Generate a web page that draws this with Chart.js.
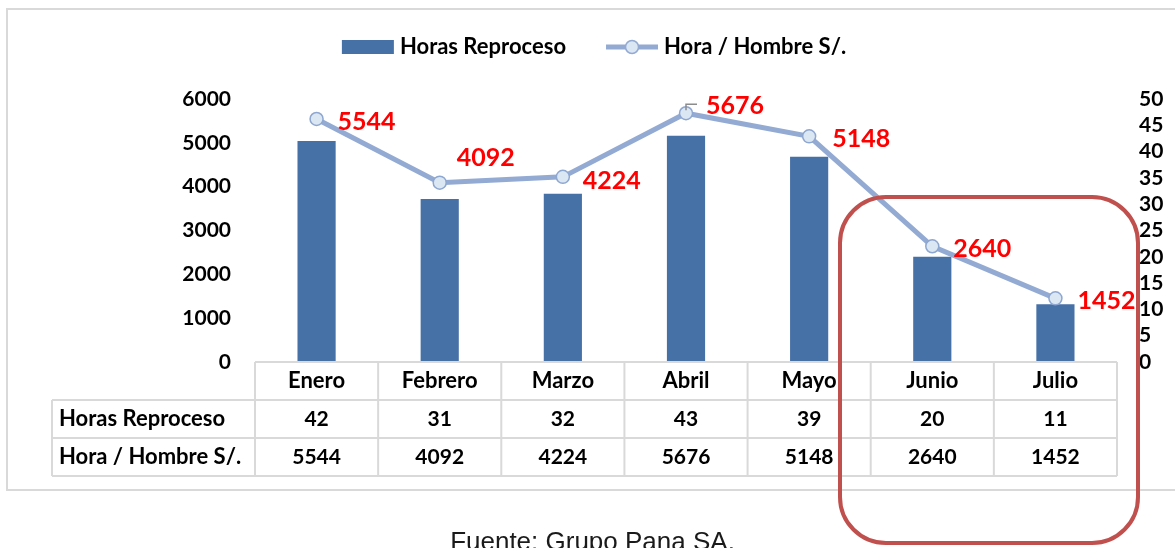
<!DOCTYPE html>
<html lang="es">
<head>
<meta charset="utf-8">
<title>Horas Reproceso y Hora / Hombre S/.</title>
<script src="https://cdn.jsdelivr.net/npm/chart.js@4.4.1/dist/chart.umd.min.js"></script>
<style>
  html, body { margin: 0; padding: 0; background: #fff; }
  #contenedor { position: relative; width: 1175px; height: 548px; overflow: hidden; }
  #marco { position: absolute; left: 6px; top: 8px; width: 1200px; height: 483px; border: 2px solid #d9d9d9; box-sizing: border-box; }
  #lienzo { position: absolute; left: 0; top: 0; width: 1175px; height: 548px; }
  #resaltado { position: absolute; left: 838px; top: 195px; width: 302px; height: 350px; border: 4px solid #c0504d; border-radius: 48px; box-sizing: border-box; }
  #fuente { position: absolute; left: 0; top: 528px; width: 1185px; text-align: center; font: 26px/26px "Liberation Sans", Arial, sans-serif; color: #1a1a1a; }
</style>
</head>
<body>
<div id="contenedor">
  <div id="marco"></div>
  <div id="lienzo"><canvas id="graficoReproceso"></canvas></div>
  <div id="resaltado"></div>
  <div id="fuente">Fuente: Grupo Pana SA.</div>
</div>
<script>
var meses = ['Enero', 'Febrero', 'Marzo', 'Abril', 'Mayo', 'Junio', 'Julio'];
var horasReproceso = [42, 31, 32, 43, 39, 20, 11];
var horaHombre = [5544, 4092, 4224, 5676, 5148, 2640, 1452];

var serieBarras = 'Horas Reproceso';
var serieLinea = 'Hora / Hombre S/.';

// desplazamiento de cada etiqueta roja respecto a su punto
var desplazamientoEtiquetas = [[21, 3], [17, -25], [20, 4], [20, -7], [23, 3], [21, 3], [22, 3]];

var colorBarra = '#4671a7';
var colorLinea = '#93aad3';
var colorMarcador = '#dbe7f3';
var colorTabla = '#d9d9d9';

var fuenteTexto = 'bold 22px Lato';
var fuenteNumeros = 'bold 21px Lato';

Chart.defaults.font.family = 'Lato';
Chart.defaults.font.size = 21;
Chart.defaults.font.weight = 'bold';
Chart.defaults.color = '#000';

// valores en rojo junto a cada punto de la linea
var etiquetasLinea = {
	id: 'etiquetasLinea',
	afterDatasetsDraw: function(chart) {
		var ctx = chart.ctx;
		var puntos = chart.getDatasetMeta(0).data;
		ctx.save();
		ctx.font = 'bold 25px Lato';
		ctx.fillStyle = '#ff0000';
		ctx.textAlign = 'left';
		ctx.textBaseline = 'middle';
		puntos.forEach(function(p, i) {
			var d = desplazamientoEtiquetas[i];
			ctx.fillText(String(horaHombre[i]), p.x + d[0], p.y + d[1]);
		});
		// pequena linea guia de la etiqueta de abril
		var abril = puntos[3];
		ctx.strokeStyle = '#8c8c8c';
		ctx.lineWidth = 1.5;
		ctx.beginPath();
		ctx.moveTo(abril.x, abril.y - 3);
		ctx.lineTo(abril.x, abril.y - 9);
		ctx.lineTo(abril.x + 11, abril.y - 9);
		ctx.stroke();
		ctx.restore();
	}
};

// leyenda y tabla de datos bajo el eje
var tablaDatos = {
	id: 'tablaDatos',
	afterDraw: function(chart) {
		var ctx = chart.ctx;
		var x = chart.scales.x;
		var area = chart.chartArea;
		var n = meses.length;
		var ancho = x.width / n;
		var alto = 38;
		var arriba = area.bottom;
		var izquierda = 52;

		ctx.save();
		ctx.font = fuenteTexto;
		ctx.textBaseline = 'middle';

		// leyenda
		var yLeyenda = 47;
		var t1 = ctx.measureText(serieBarras).width;
		var t2 = ctx.measureText(serieLinea).width;
		var total = 52 + 6 + t1 + 40 + 52 + 6 + t2;
		var lx = 594 - total / 2;
		ctx.fillStyle = colorBarra;
		ctx.fillRect(lx, yLeyenda - 7, 52, 14);
		ctx.fillStyle = '#000';
		ctx.textAlign = 'left';
		ctx.fillText(serieBarras, lx + 58, yLeyenda);
		lx += 58 + t1 + 40;
		ctx.strokeStyle = colorLinea;
		ctx.lineWidth = 5;
		ctx.beginPath();
		ctx.moveTo(lx, yLeyenda);
		ctx.lineTo(lx + 52, yLeyenda);
		ctx.stroke();
		ctx.beginPath();
		ctx.arc(lx + 26, yLeyenda, 6.5, 0, Math.PI * 2);
		ctx.fillStyle = colorMarcador;
		ctx.fill();
		ctx.lineWidth = 1.5;
		ctx.stroke();
		ctx.fillStyle = '#000';
		ctx.fillText(serieLinea, lx + 58, yLeyenda);

		// lineas de la tabla
		ctx.strokeStyle = colorTabla;
		ctx.lineWidth = 2;
		ctx.beginPath();
		ctx.moveTo(x.left, arriba);
		ctx.lineTo(x.right, arriba);
		for (var f = 1; f <= 3; f++) {
			ctx.moveTo(izquierda, arriba + f * alto);
			ctx.lineTo(x.right, arriba + f * alto);
		}
		ctx.moveTo(izquierda, arriba + alto);
		ctx.lineTo(izquierda, arriba + 3 * alto);
		for (var c = 0; c <= n; c++) {
			ctx.moveTo(x.left + c * ancho, arriba);
			ctx.lineTo(x.left + c * ancho, arriba + 3 * alto);
		}
		ctx.stroke();

		// textos
		ctx.fillStyle = '#000';
		ctx.textAlign = 'left';
		ctx.fillText(serieBarras, izquierda + 7, arriba + alto * 1.5);
		ctx.fillText(serieLinea, izquierda + 7, arriba + alto * 2.5);
		ctx.textAlign = 'center';
		meses.forEach(function(mes, i) {
			var cx = x.getPixelForTick(i);
			ctx.font = fuenteTexto;
			ctx.fillText(mes, cx, arriba + alto * 0.5);
			ctx.font = fuenteNumeros;
			ctx.fillText(String(horasReproceso[i]), cx, arriba + alto * 1.5);
			ctx.fillText(String(horaHombre[i]), cx, arriba + alto * 2.5);
		});
		ctx.restore();
	}
};

var grafico = new Chart(document.getElementById('graficoReproceso').getContext('2d'), {
	type: 'bar',
	data: {
		labels: meses,
		datasets: [{
			type: 'line',
			label: serieLinea,
			data: horaHombre,
			yAxisID: 'y',
			borderColor: colorLinea,
			borderWidth: 5,
			tension: 0,
			pointRadius: 6.5,
			pointBackgroundColor: colorMarcador,
			pointBorderColor: '#8ea7d1',
			pointBorderWidth: 1.5,
			order: 0
		}, {
			label: serieBarras,
			data: horasReproceso,
			yAxisID: 'y1',
			backgroundColor: colorBarra,
			barPercentage: 0.31,
			categoryPercentage: 1,
			order: 1
		}]
	},
	options: {
		responsive: true,
		maintainAspectRatio: false,
		animation: false,
		layout: {
			padding: { top: 99, bottom: 186, left: 0, right: 0 }
		},
		plugins: {
			legend: { display: false },
			tooltip: { enabled: false }
		},
		scales: {
			x: { display: false },
			y: {
				position: 'left',
				min: 0,
				max: 6000,
				ticks: {
					stepSize: 1000,
					padding: 24,
					callback: function(valor) { return String(valor); }
				},
				grid: { display: false, drawTicks: false },
				border: { display: false },
				afterFit: function(escala) { escala.width = 255; }
			},
			y1: {
				position: 'right',
				min: 0,
				max: 50,
				ticks: { stepSize: 5, padding: 22, autoSkip: false },
				grid: { display: false, drawTicks: false },
				border: { display: false },
				afterFit: function(escala) { escala.width = 58; }
			}
		}
	},
	plugins: [etiquetasLinea, tablaDatos]
});
</script>
</body>
</html>
